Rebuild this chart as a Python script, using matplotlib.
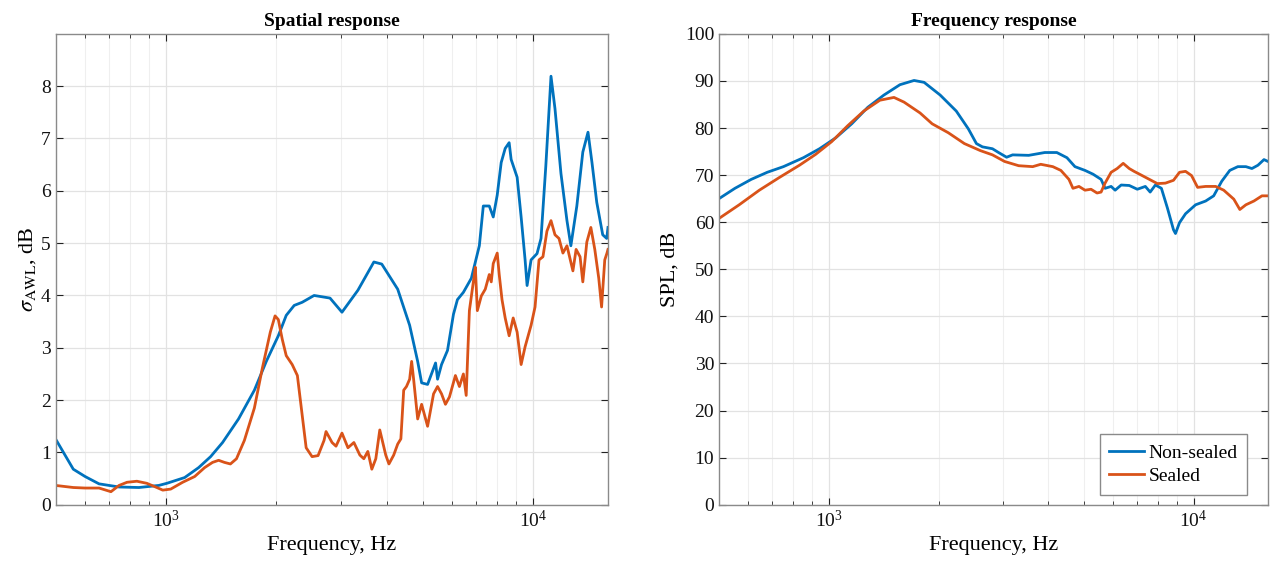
import numpy as np
import matplotlib
matplotlib.use('Agg')
font = {'family': 'serif',
        'serif': ['Liberation Serif', 'DejaVu Serif'],
        'size': 14}
matplotlib.rc('font', **font)
matplotlib.rc('mathtext', fontset='stix')
from matplotlib import pyplot as plt
from matplotlib.ticker import NullFormatter, LogLocator

# --- Spatial response (sigma_AWL, dB) ---
sp_f_nonsealed = [500, 559, 602, 657, 745, 844, 956, 1005, 1124, 1227, 1323, 1426,
                  1576, 1741, 1876, 2023, 2126, 2235, 2350, 2532, 2798, 3016, 3333,
                  3684, 3871, 4278, 4611, 4849, 4971, 5160, 5425, 5493, 5632, 5847,
                  6069, 6222, 6459, 6791, 7139, 7319, 7598, 7790, 7987, 8188, 8396,
                  8607, 8715, 9049, 9279, 9513, 9632, 9876, 10252, 10512, 10832,
                  11191, 11474, 11913, 12370, 12677, 13160, 13663, 14115, 14471,
                  14912, 15480, 15873, 16000]
sp_nonsealed = [1.26, 0.68, 0.54, 0.40, 0.34, 0.33, 0.37, 0.41, 0.52, 0.71, 0.92, 1.19,
                1.64, 2.19, 2.74, 3.23, 3.62, 3.81, 3.87, 4.00, 3.95, 3.68, 4.10,
                4.64, 4.60, 4.12, 3.43, 2.74, 2.33, 2.30, 2.71, 2.40, 2.68, 2.95,
                3.64, 3.92, 4.06, 4.33, 4.95, 5.71, 5.71, 5.50, 5.92, 6.54, 6.81,
                6.92, 6.60, 6.26, 5.50, 4.68, 4.19, 4.68, 4.80, 5.09, 6.47,
                8.19, 7.57, 6.33, 5.43, 4.95, 5.71, 6.74, 7.12, 6.54,
                5.78, 5.16, 5.09, 5.30]

sp_f_sealed = [500, 559, 602, 657, 708, 745, 783, 833, 887, 944, 980, 1030, 1110,
               1197, 1274, 1339, 1391, 1443, 1498, 1556, 1635, 1741, 1830, 1924,
               1982, 2023, 2074, 2126, 2207, 2280, 2350, 2409, 2500, 2596, 2695,
               2729, 2834, 2905, 3016, 3131, 3250, 3374, 3459, 3547, 3637, 3729,
               3823, 3969, 4049, 4172, 4278, 4364, 4442, 4520, 4611, 4669, 4727,
               4849, 4971, 5160, 5357, 5493, 5632, 5772, 5918, 6144, 6300, 6459,
               6574, 6707, 6876, 6962, 7050, 7228, 7410, 7598, 7693, 7790, 7987,
               8087, 8230, 8396, 8607, 8828, 9049, 9279, 9513, 9876, 10125, 10380,
               10640, 10910, 11191, 11474, 11766, 12060, 12370, 12840, 13100,
               13430, 13663, 14010, 14370, 14730, 15100, 15370, 15680, 15900, 16000]
sp_sealed = [0.37, 0.33, 0.32, 0.32, 0.25, 0.37, 0.43, 0.45, 0.41, 0.33, 0.28, 0.30, 0.43,
             0.54, 0.71, 0.81, 0.85, 0.81, 0.78, 0.88, 1.23, 1.85, 2.61, 3.30,
             3.61, 3.54, 3.16, 2.85, 2.68, 2.47, 1.71, 1.09, 0.92, 0.94, 1.23,
             1.40, 1.19, 1.12, 1.37, 1.09, 1.19, 0.95, 0.88, 1.02, 0.68, 0.88,
             1.43, 0.95, 0.78, 0.95, 1.16, 1.26, 2.19, 2.26, 2.40, 2.74, 2.40,
             1.64, 1.92, 1.50, 2.12, 2.26, 2.12, 1.92, 2.06, 2.47, 2.26, 2.50,
             2.09, 3.71, 4.26, 4.54, 3.71, 3.99, 4.12, 4.40, 4.26, 4.61, 4.81,
             4.40, 3.92, 3.57, 3.23, 3.57, 3.30, 2.68, 3.02, 3.43, 3.78, 4.68,
             4.74, 5.23, 5.43, 5.16, 5.09, 4.81, 4.95, 4.47, 4.88,
             4.74, 4.26, 5.02, 5.30, 4.88, 4.33, 3.78, 4.68, 4.81, 4.88]

# --- Frequency response (SPL, dB) ---
fr_f_nonsealed = [500, 553, 613, 678, 751, 852, 943, 1044, 1156, 1279, 1416, 1567,
                  1713, 1825, 2020, 2236, 2414, 2539, 2638, 2810, 2920, 3072, 3191,
                  3532, 3909, 4218, 4496, 4729, 5039, 5301, 5577, 5720, 5942, 6095,
                  6332, 6663, 7010, 7375, 7603, 7858, 8162, 8479, 8809, 8921, 9150,
                  9506, 10128, 10792, 11352, 11946, 12567, 13222, 13912, 14452,
                  15012, 15596, 16000]
fr_nonsealed = [65.0, 67.2, 69.1, 70.6, 71.8, 73.7, 75.6, 77.9, 80.9, 84.4, 87.0, 89.2,
                90.1, 89.7, 87.0, 83.6, 79.8, 76.7, 76.0, 75.6, 74.8, 73.8, 74.3,
                74.2, 74.8, 74.8, 73.7, 71.8, 71.0, 70.2, 69.1, 67.2, 67.6, 66.8,
                67.9, 67.8, 67.0, 67.6, 66.4, 67.9, 67.2, 63.0, 58.4, 57.6, 59.9,
                61.8, 63.7, 64.5, 65.6, 68.7, 71.0, 71.8, 71.8, 71.4,
                72.1, 73.3, 72.9]

fr_f_sealed = [500, 568, 645, 732, 831, 920, 1018, 1127, 1247, 1380, 1509, 1608,
               1779, 1920, 2126, 2353, 2604, 2810, 3033, 3315, 3622, 3811, 4113,
               4327, 4553, 4670, 4851, 5039, 5234, 5437, 5577, 5720, 5942, 6173,
               6413, 6663, 6869, 7190, 7564, 7958, 8372, 8809, 9150, 9506, 9874,
               10257, 10792, 11497, 12097, 12890, 13391, 13912, 14636, 15397, 16000]
fr_sealed = [60.8, 63.7, 66.8, 69.5, 72.1, 74.4, 77.1, 80.5, 83.6, 85.9, 86.5, 85.5,
             83.2, 80.9, 79.0, 76.7, 75.2, 74.3, 72.9, 72.0, 71.8, 72.3, 71.8,
             71.0, 69.1, 67.2, 67.6, 66.8, 67.0, 66.2, 66.4, 68.3, 70.6, 71.4,
             72.5, 71.4, 70.8, 70.0, 69.1, 68.2, 68.3, 68.9, 70.6, 70.8, 69.9,
             67.4, 67.6, 67.6, 66.8, 64.9, 62.7, 63.7, 64.5, 65.6, 65.6]

blue = '#0072BD'
orange = '#D95319'


def style_axes(ax):
    ax.set_xscale('log')
    ax.set_xlim(500, 16000)
    ax.xaxis.set_minor_locator(LogLocator(base=10, subs=np.arange(2, 10)))
    ax.xaxis.set_minor_formatter(NullFormatter())
    ax.grid(True, which='major', color='#e2e2e2', linewidth=0.9)
    ax.grid(True, which='minor', axis='x', color='#efefef', linewidth=0.8)
    ax.set_axisbelow(True)
    ax.tick_params(direction='in', which='both', top=True, right=True,
                   colors='#222222', labelcolor='#111111')
    ax.tick_params(which='major', length=5, width=0.8)
    ax.tick_params(which='minor', length=3, width=0.6)
    for s in ax.spines.values():
        s.set_color('#8a8a8a')
        s.set_linewidth(1.0)
    ax.set_xlabel('Frequency, Hz', fontsize=16, labelpad=4)


fig = plt.figure(figsize=(12.73, 5.64), dpi=100)

ax1 = fig.add_axes([0.0436, 0.105, 0.434, 0.835])
ax1.plot(sp_f_nonsealed, sp_nonsealed, color=blue, linewidth=2)
ax1.plot(sp_f_sealed, sp_sealed, color=orange, linewidth=2)
style_axes(ax1)
ax1.set_ylim(0, 9)
ax1.set_yticks(range(0, 9))
ax1.set_ylabel(r'$\sigma_{\rm AWL}$, dB', fontsize=16, labelpad=2)
ax1.set_title('Spatial response', fontsize=14, fontweight='bold', pad=6)

ax2 = fig.add_axes([0.5648, 0.105, 0.4313, 0.835])
ax2.plot(fr_f_nonsealed, fr_nonsealed, color=blue, linewidth=2, label='Non-sealed')
ax2.plot(fr_f_sealed, fr_sealed, color=orange, linewidth=2, label='Sealed')
style_axes(ax2)
ax2.set_ylim(0, 100)
ax2.set_yticks(range(0, 101, 10))
ax2.set_ylabel('SPL, dB', fontsize=16, labelpad=4)
ax2.set_title('Frequency response', fontsize=14, fontweight='bold', pad=6)
leg = ax2.legend(loc='lower right', bbox_to_anchor=(0.962, 0.021), borderaxespad=0,
                 fontsize=14, fancybox=False, framealpha=1, edgecolor='#8a8a8a',
                 handlelength=1.8, handletextpad=0.2, borderpad=0.5, labelspacing=0.3)
leg.get_frame().set_linewidth(1.0)

plt.savefig('out.png', dpi=100)
